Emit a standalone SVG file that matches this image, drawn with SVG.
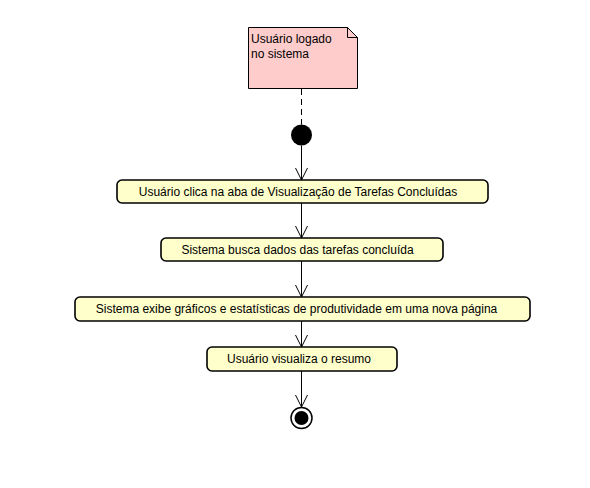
<svg xmlns="http://www.w3.org/2000/svg" width="590" height="488" viewBox="0 0 590 488">
<defs>
<style>
.act{fill:#ffffcc;stroke:#000;stroke-width:1.6}
.t{font-family:"Liberation Sans",Arial,sans-serif;font-size:12px;fill:#000}
.edge{stroke:#000;stroke-width:1;fill:none}
</style>
<marker id="arr" markerWidth="14" markerHeight="14" refX="12" refY="6" orient="auto" markerUnits="userSpaceOnUse">
<path d="M0,0 L12,6 L0,12" fill="none" stroke="#000" stroke-width="1"/>
</marker>
</defs>
<rect width="590" height="488" fill="#fff"/>
<g id="note">
<path d="M248.5,27.5 H347.5 L357.5,37.5 V88.5 H248.5 Z" fill="#ffcccc" stroke="#000" stroke-width="1"/>
<path d="M347.5,27.5 V37.5 H357.5" fill="none" stroke="#000" stroke-width="1"/>
<text class="t" x="251" y="43">Usuário logado</text>
<text class="t" x="251" y="58">no sistema</text>
</g>
<g id="start"><circle cx="301.5" cy="135" r="10.5" fill="#000"/></g>
<g id="a1"><rect class="act" x="117" y="180" width="371" height="23" rx="5"/><text class="t" x="298" y="196" text-anchor="middle">Usuário clica na aba de Visualização de Tarefas Concluídas</text></g>
<g id="a2"><rect class="act" x="161" y="238" width="282" height="23" rx="5"/><text class="t" x="297.5" y="254" text-anchor="middle">Sistema busca dados das tarefas concluída</text></g>
<g id="a3"><rect class="act" x="75" y="297" width="455" height="24" rx="5"/><text class="t" x="296.5" y="313" text-anchor="middle">Sistema exibe gráficos e estatísticas de produtividade em uma nova página</text></g>
<g id="a4"><rect class="act" x="207" y="347" width="190" height="24" rx="5"/><text class="t" x="299" y="363" text-anchor="middle">Usuário visualiza o resumo</text></g>
<g id="end"><circle cx="301.5" cy="418" r="10.5" fill="#fff" stroke="#000" stroke-width="1.5"/><circle cx="301.5" cy="418" r="7" fill="#000"/></g>
<g id="connectors">
<line x1="301.5" y1="89" x2="301.5" y2="124.5" stroke="#000" stroke-width="1" stroke-dasharray="6,4"/>
<line class="edge" x1="301.5" y1="145.5" x2="301.5" y2="180" marker-end="url(#arr)"/>
<line class="edge" x1="301.5" y1="203" x2="301.5" y2="238" marker-end="url(#arr)"/>
<line class="edge" x1="301.5" y1="261" x2="301.5" y2="297" marker-end="url(#arr)"/>
<line class="edge" x1="301.5" y1="321" x2="301.5" y2="347" marker-end="url(#arr)"/>
<line class="edge" x1="301.5" y1="371" x2="301.5" y2="407" marker-end="url(#arr)"/>
</g>
</svg>
